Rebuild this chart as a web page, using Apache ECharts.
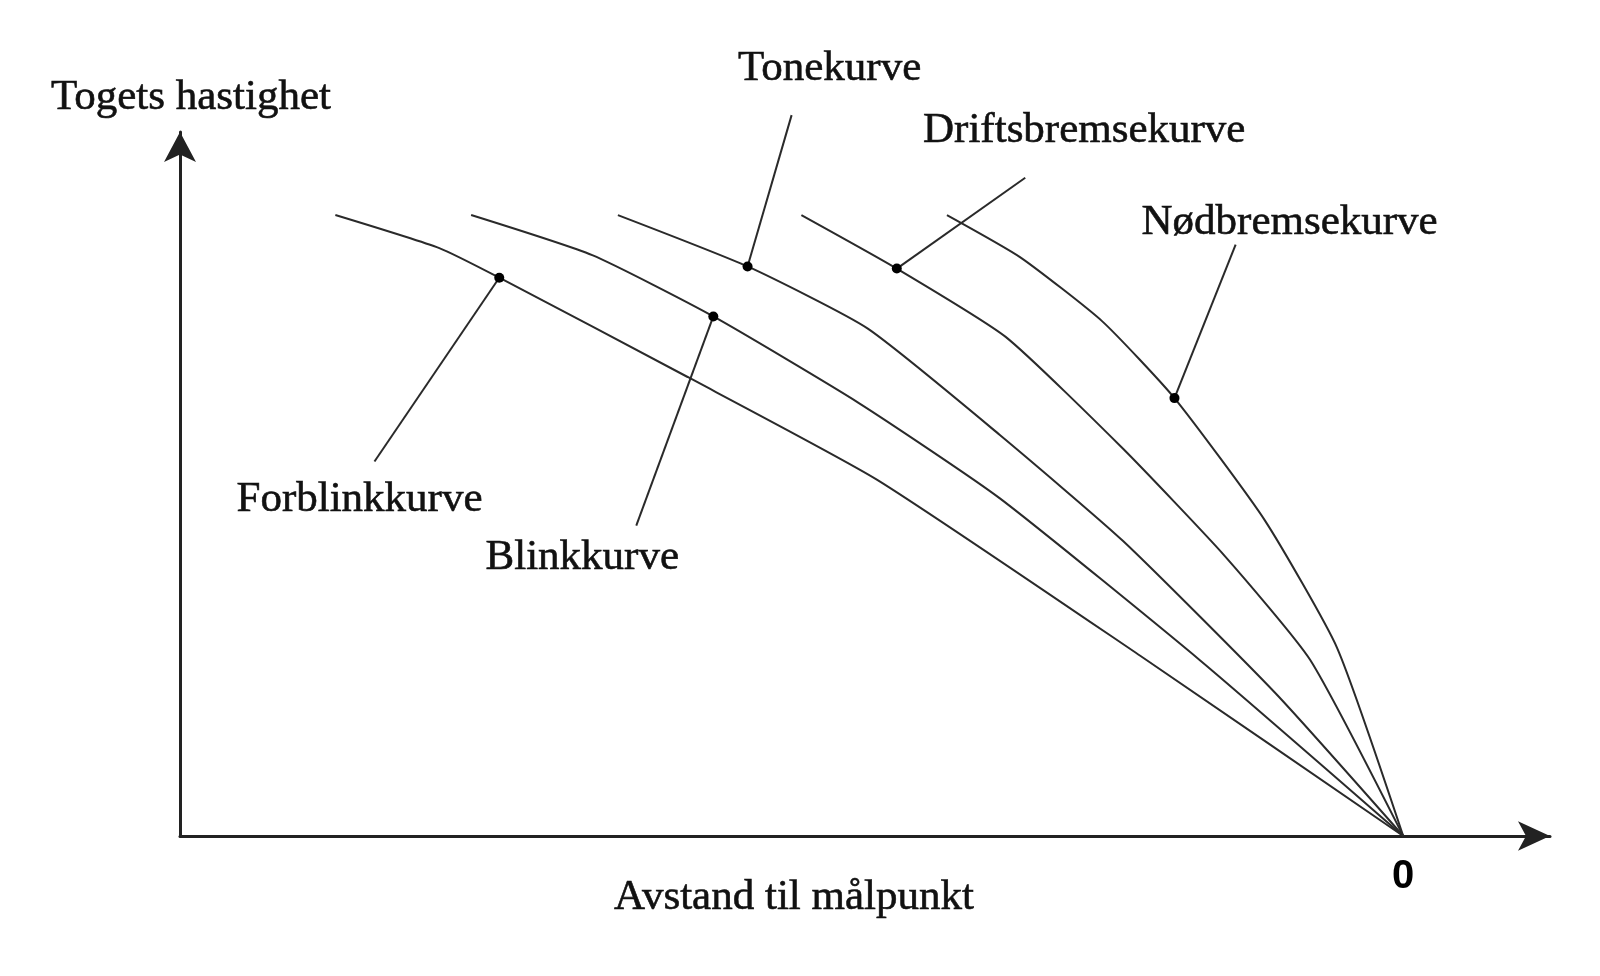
<!DOCTYPE html>
<html>
<head>
<meta charset="utf-8">
<script src="https://cdn.jsdelivr.net/npm/echarts@6/dist/echarts.min.js"></script>
<style>
html,body{margin:0;padding:0;background:#fff;}
#chart{width:1600px;height:976px;}
</style>
</head>
<body>
<div id="chart"></div>
<script>
// Distance to target point (0 = target) and train speed, in arbitrary units
const curveNames = ['Forblinkkurve', 'Blinkkurve', 'Tonekurve', 'Driftsbremsekurve', 'Nødbremsekurve'];
const forblinkCurve = [[87.3, 88.2], [78.8, 83.5], [73.9, 79.3], [58.5, 65.2], [43.0, 50.6], [21.5, 25.6], [0, 0]];
const blinkCurve = [[76.2, 88.2], [66.3, 82.5], [56.4, 73.8], [44.5, 61.5], [33.0, 48.0], [16.5, 24.8], [0, 0]];
const toneCurve = [[64.2, 88.2], [53.6, 80.9], [43.8, 72.1], [33.0, 57.0], [22.9, 41.9], [10.4, 20.2], [0, 0]];
const driftsCurve = [[49.2, 88.2], [41.4, 80.6], [32.5, 70.9], [22.9, 55.0], [14.6, 39.8], [7.6, 25.0], [0, 0]];
const nodCurve = [[37.3, 88.2], [31.3, 82.2], [24.6, 73.1], [18.7, 62.2], [11.3, 44.8], [5.4, 26.7], [0, 0]];
// Annotation leader lines: marked point on the curve -> end of the leader line
const leaderDots = [[73.9, 79.3], [56.4, 73.8], [53.6, 80.9], [41.4, 80.6], [18.7, 62.2]];
const leaderEnds = [[84.1, 53.2], [62.7, 44.1], [50.0, 102.4], [30.9, 93.5], [13.7, 84.0]];
const xTickLabels = ['0'];
const xAxisTitle = 'Avstand til målpunkt';
const yAxisTitle = 'Togets hastighet';

const curves = [forblinkCurve, blinkCurve, toneCurve, driftsCurve, nodCurve];
// label offsets (px) from leader end to the label centre
const labelOffsets = [[-15, 38], [-54, 32], [38, -46], [59, -47], [54, -22]];

const serif = '"Liberation Serif", "Times New Roman", serif';
const lineColor = '#2a2a2a';
const textColor = '#111';

const series = [];
curves.forEach(function (c, i) {
  series.push({
    name: curveNames[i],
    type: 'line',
    data: c,
    symbol: 'none',
    smooth: 0.18,
    clip: false,
    silent: true,
    lineStyle: { color: lineColor, width: 2 },
    z: 2
  });
});
curveNames.forEach(function (n, i) {
  series.push({
    name: n + ' leader',
    type: 'line',
    clip: false,
    silent: true,
    lineStyle: { color: lineColor, width: 2 },
    z: 3,
    data: [
      { value: leaderDots[i], symbol: 'circle', symbolSize: 10, itemStyle: { color: '#000' } },
      {
        value: leaderEnds[i], symbol: 'circle', symbolSize: 1,
        itemStyle: { color: 'rgba(0,0,0,0)' },
        label: {
          show: true,
          formatter: n,
          position: 'inside',
          offset: labelOffsets[i],
          fontFamily: serif,
          fontSize: 43,
          color: textColor,
          textBorderColor: textColor,
          textBorderWidth: 0.6
        }
      }
    ]
  });
});

const chart = echarts.init(document.getElementById('chart'));
chart.setOption({
  backgroundColor: '#fff',
  animation: false,
  grid: { left: 180, right: 50, top: 132, bottom: 140, containLabel: false, outerBoundsMode: 'none' },
  xAxis: {
    type: 'value',
    inverse: true,
    min: -12,
    max: 100,
    interval: 4,
    name: xAxisTitle,
    nameLocation: 'middle',
    nameGap: 40,
    nameMoveOverlap: false,
    nameTextStyle: { fontFamily: serif, fontSize: 43, color: textColor, textBorderColor: textColor, textBorderWidth: 0.6, padding: [0, 142, 0, 0] },
    axisLine: {
      onZero: false,
      lineStyle: { color: '#222', width: 3 },
      symbol: ['none', 'arrow'],
      symbolSize: [22, 32]
    },
    axisTick: { show: false },
    splitLine: { show: false },
    axisLabel: {
      margin: 21,
      fontFamily: '"Liberation Sans", Arial, sans-serif',
      fontWeight: 'bold',
      fontSize: 40,
      color: '#000',
      formatter: function (v) { return xTickLabels.indexOf(String(v)) >= 0 ? String(v) : ''; }
    }
  },
  yAxis: {
    type: 'value',
    min: 0,
    max: 100,
    name: yAxisTitle,
    nameLocation: 'end',
    nameGap: 13,
    nameMoveOverlap: false,
    nameTextStyle: { fontFamily: serif, fontSize: 43, color: textColor, textBorderColor: textColor, textBorderWidth: 0.6, padding: [0, 0, 0, 22] },
    axisLine: {
      show: true,
      onZero: false,
      lineStyle: { color: '#222', width: 3 },
      symbol: ['none', 'arrow'],
      symbolSize: [24, 30]
    },
    axisTick: { show: false },
    splitLine: { show: false },
    axisLabel: { show: false }
  },
  series: series
});
</script>
</body>
</html>
